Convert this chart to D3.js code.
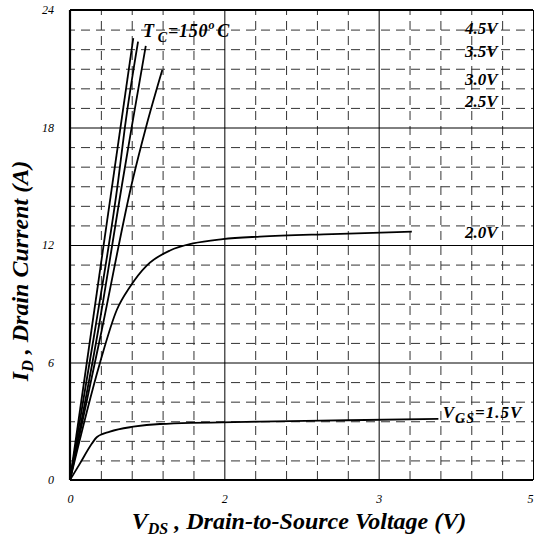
<!DOCTYPE html>
<html>
<head>
<meta charset="utf-8">
<script src="https://cdn.jsdelivr.net/npm/d3@7"></script>
<style>
  body { margin: 0; background: #fff; }
  svg { display: block; }
  text { font-family: "Liberation Serif", "Times New Roman", serif; font-style: italic; }
  .tick text { font-size: 12px; fill: #000; }
  .lbl { font-size: 17px; font-weight: bold; }
</style>
</head>
<body>
<svg width="534" height="544"></svg>
<script>

// x axis runs 0..3 grid units, labelled as in the datasheet
var xMajor = [0, 1, 2, 3],
    xMajorLabels = ["0", "2", "3", "5"],
    yMajor = [0, 6, 12, 18, 24],
    yMajorLabels = ["0", "6", "12", "18", "24"];

var vgs45 = [[0, 0], [0.41, 22.56]];
var vgs35 = [[0, 0], [0.162, 7.66], [0.313, 15.32], [0.356, 18.03], [0.441, 22.39]];
var vgs30 = [[0, 0], [0.183, 7.66], [0.342, 15.32], [0.40, 18.03], [0.491, 22.17]];
var vgs25 = [[0, 0], [0.206, 7.66], [0.406, 15.32], [0.493, 18.03], [0.598, 20.94]];
var vgs20 = [[0, 0], [0.194, 5.98], [0.303, 8.68], [0.389, 9.87], [0.497, 10.95],
             [0.648, 11.72], [0.797, 12.08], [0.99, 12.3], [1.23, 12.43], [1.7, 12.56], [2.215, 12.68]];
var vgs15 = [[0, 0], [0.065, 0.85], [0.141, 1.85], [0.173, 2.18], [0.259, 2.47], [0.41, 2.72],
             [0.583, 2.86], [1.231, 2.98], [1.8, 3.05], [2.387, 3.12]];

var curveLabels = [
  {t: "4.5V", u: 2.56, i: 22.78},
  {t: "3.5V", u: 2.56, i: 21.6},
  {t: "3.0V", u: 2.56, i: 20.17},
  {t: "2.5V", u: 2.56, i: 19.05},
  {t: "2.0V", u: 2.56, i: 12.36}
];

var svg = d3.select("svg");
var margin = {top: 10, right: 1, bottom: 64, left: 70},
    width = 534 - margin.left - margin.right,
    height = 544 - margin.top - margin.bottom,
    g = svg.append("g").attr("transform", "translate(" + margin.left + "," + margin.top + ")");

var x = d3.scaleLinear().domain([0, 3]).range([0, 463]),
    y = d3.scaleLinear().domain([0, 24]).range([height, 0]);

// dashed minor grid
var xMinor = d3.range(0, 3.01, 0.2).filter(function(v) { return Math.abs(v - Math.round(v)) > 0.01; }),
    yMinor = d3.range(1, 24).filter(function(v) { return v % 6 != 0; });

g.append("g")
  .attr("transform", "translate(0," + height + ")")
  .call(d3.axisBottom(x).tickValues(xMinor).tickSize(-height).tickFormat(""))
  .call(function(s) {
    s.select(".domain").remove();
    s.selectAll("line").attr("stroke", "#333").attr("stroke-dasharray", "9,6");
  });

g.append("g")
  .call(d3.axisLeft(y).tickValues(yMinor).tickSize(-width).tickFormat(""))
  .call(function(s) {
    s.select(".domain").remove();
    s.selectAll("line").attr("stroke", "#333").attr("stroke-dasharray", "9,6").attr("stroke-dashoffset", 4);
  });

// solid major grid + labels
g.append("g")
  .attr("transform", "translate(0," + height + ")")
  .call(d3.axisBottom(x).tickValues(xMajor).tickSize(-height).tickPadding(14)
    .tickFormat(function(d, i) { return xMajorLabels[i]; }))
  .call(function(s) {
    s.select(".domain").remove();
    s.selectAll("line").attr("stroke", "#000");
    s.selectAll("text").attr("dx", function(d) { return d == 3 ? -3 : 0; });
  });

g.append("g")
  .call(d3.axisLeft(y).tickValues(yMajor).tickSize(-width).tickPadding(16)
    .tickFormat(function(d, i) { return yMajorLabels[i]; }))
  .call(function(s) {
    s.select(".domain").remove();
    s.selectAll("line").attr("stroke", "#000");
  });

// frame
g.append("line").attr("x1", 0).attr("x2", 0).attr("y1", 0).attr("y2", height)
  .attr("stroke", "#000").attr("stroke-width", 2.2);
g.append("line").attr("x1", 0).attr("x2", width).attr("y1", height).attr("y2", height)
  .attr("stroke", "#000").attr("stroke-width", 2.2);
g.append("line").attr("x1", 0).attr("x2", width).attr("y1", 0).attr("y2", 0)
  .attr("stroke", "#000").attr("stroke-width", 2);

var line = d3.line()
  .curve(d3.curveMonotoneX)
  .x(function(d) { return x(d[0]); })
  .y(function(d) { return y(d[1]); });

[vgs45, vgs35, vgs30, vgs25, vgs20, vgs15].forEach(function(s) {
  g.append("path")
    .attr("d", line(s))
    .attr("fill", "none")
    .attr("stroke", "#000")
    .attr("stroke-width", 1.8);
});

// curve labels
g.selectAll(".clbl")
  .data(curveLabels)
  .enter().append("text")
  .attr("class", "lbl")
  .attr("x", function(d) { return x(d.u); })
  .attr("y", function(d) { return y(d.i); })
  .text(function(d) { return d.t; });

var vl = g.append("text").attr("class", "lbl")
  .attr("x", x(2.415)).attr("y", y(3.17)).attr("letter-spacing", 1);
vl.append("tspan").text("V");
vl.append("tspan").attr("dy", 5).attr("font-size", 14).text("GS");
vl.append("tspan").attr("dy", -5).text("=1.5V");

var tc = g.append("text").attr("class", "lbl")
  .attr("x", x(0.473)).attr("y", y(22.62)).style("font-size", "18px").attr("letter-spacing", 0.8);
tc.append("tspan").text("T");
tc.append("tspan").attr("dy", 5).attr("dx", 3).attr("font-size", 14).text("C");
tc.append("tspan").attr("dy", -5).text("=150");
tc.append("tspan").attr("dy", -8).attr("font-size", 12).text("o");
tc.append("tspan").attr("dy", 8).attr("dx", 2).text("C");

// axis titles
var xt = svg.append("text").attr("class", "lbl")
  .attr("x", 299).attr("y", 529)
  .attr("text-anchor", "middle").style("font-size", "24px");
xt.append("tspan").text("V");
xt.append("tspan").attr("dy", 5).attr("font-size", 16).text("DS");
xt.append("tspan").attr("dy", -5).text(" , Drain-to-Source Voltage (V)");

var yt = svg.append("text").attr("class", "lbl")
  .attr("transform", "translate(28,271) rotate(-90)")
  .attr("text-anchor", "middle").style("font-size", "24px");
yt.append("tspan").text("I");
yt.append("tspan").attr("dy", 5).attr("font-size", 16).text("D");
yt.append("tspan").attr("dy", -5).text(" , Drain Current (A)");

</script>
</body>
</html>
